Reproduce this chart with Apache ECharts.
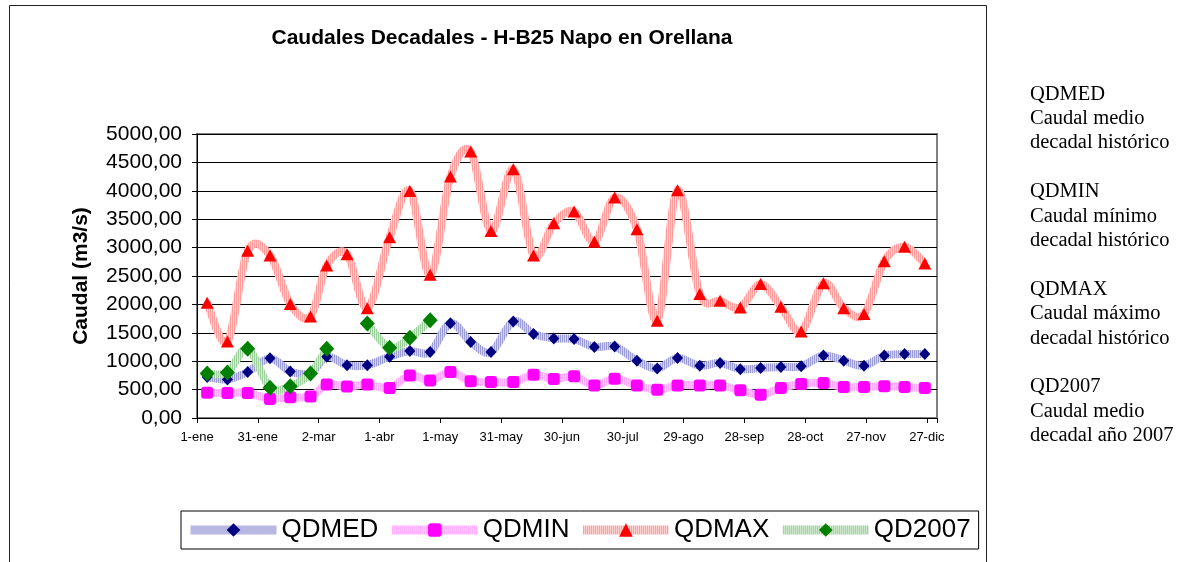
<!DOCTYPE html>
<html>
<head>
<meta charset="utf-8">
<title>Caudales Decadales - H-B25 Napo en Orellana</title>
<script src="https://cdn.jsdelivr.net/npm/echarts@6/dist/echarts.min.js"></script>
<style>
    html, body { margin: 0; padding: 0; background: #fff; }
    #main { width: 1195px; height: 562px; }
</style>
</head>
<body>
<div id="main"></div>
<script>
// dia del año (centro de cada decada)
var decadeDays = [5, 15, 25, 36, 46, 56, 64, 74, 84, 95, 105, 115,
    125, 135, 145, 156, 166, 176, 186, 196, 206, 217, 227, 237,
    248, 258, 268, 278, 288, 298, 309, 319, 329, 339, 349, 359];

var tickLabels = ['1-ene', '31-ene', '2-mar', '1-abr', '1-may', '31-may', '30-jun',
    '30-jul', '29-ago', '28-sep', '28-oct', '27-nov', '27-dic'];

var qdmed = [720, 680, 810, 1050, 820, 790, 1080, 930, 930, 1080, 1180, 1160,
    1670, 1340, 1160, 1700, 1480, 1400, 1390, 1250, 1260, 1010, 870, 1055,
    920, 970, 860, 880, 900, 910, 1100, 1010, 920, 1100, 1125, 1125];

var qdmin = [445, 440, 440, 336, 366, 377, 590, 553, 588, 530, 750, 662,
    809, 645, 633, 633, 762, 686, 733, 574, 692, 574, 498, 574,
    574, 574, 487, 410, 528, 598, 615, 545, 545, 557, 545, 528];

var qdmax = [2030, 1348, 2943, 2861, 2005, 1788, 2685, 2884, 1934, 3183, 3998, 2521,
    4250, 4690, 3294, 4379, 2861, 3429, 3634, 3101, 3881, 3324, 1712, 4010,
    2181, 2063, 1946, 2357, 1958, 1524, 2374, 1934, 1829, 2761, 3013, 2720];

// solo hay datos hasta abril
var qd2007 = [785, 800, 1219, 533, 560, 785, 1219, null, 1664, 1236, 1412, 1723];

var notes = ['QDMED', 'Caudal medio', 'decadal histórico', '',
    'QDMIN', 'Caudal mínimo', 'decadal histórico', '',
    'QDMAX', 'Caudal máximo', 'decadal histórico', '',
    'QD2007', 'Caudal medio', 'decadal año 2007'];

function pairs(vals) {
    return vals.map(function(v, i) {
        return [decadeDays[i], v];
    });
}

// rayado vertical tipo excel
function stripes(c1, c2) {
    var cv = document.createElement('canvas');
    cv.width = 2;
    cv.height = 2;
    var ctx = cv.getContext('2d');
    ctx.fillStyle = c2;
    ctx.fillRect(0, 0, 2, 2);
    ctx.fillStyle = c1;
    ctx.fillRect(0, 0, 1, 2);
    return { image: cv, repeat: 'repeat' };
}

// curva suavizada como excel (catmull-rom), cortada en los huecos
function smoothPath(vals, api) {
    var runs = [], run = [];
    vals.forEach(function(v, i) {
        if (v == null) {
            if (run.length) runs.push(run);
            run = [];
        } else {
            run.push(api.coord([decadeDays[i], v]));
        }
    });
    if (run.length) runs.push(run);

    var d = '';
    runs.forEach(function(p) {
        d += 'M' + p[0][0] + ' ' + p[0][1];
        for (var i = 0; i < p.length - 1; i++) {
            var p0 = p[i - 1] || p[i], p1 = p[i], p2 = p[i + 1], p3 = p[i + 2] || p[i + 1];
            var c1x = p1[0] + (p2[0] - p0[0]) / 6, c1y = p1[1] + (p2[1] - p0[1]) / 6;
            var c2x = p2[0] - (p3[0] - p1[0]) / 6, c2y = p2[1] - (p3[1] - p1[1]) / 6;
            d += 'C' + c1x + ' ' + c1y + ' ' + c2x + ' ' + c2y + ' ' + p2[0] + ' ' + p2[1];
        }
    });
    return d;
}

function lineSeries(vals, lineA, lineB) {
    var pat = stripes(lineA, lineB);
    return {
        type: 'custom',
        silent: true,
        data: pairs(vals),
        encode: { x: 0, y: 1 },
        renderItem: function(params, api) {
            if (params.dataIndex !== 0) return;
            return {
                type: 'path',
                shape: { pathData: smoothPath(vals, api) },
                style: { fill: null, stroke: pat, lineWidth: 8, lineJoin: 'round' }
            };
        }
    };
}

function markSeries(name, vals, lineA, lineB, mark, symbol, size) {
    return {
        name: name,
        type: 'line',
        data: pairs(vals),
        symbol: symbol,
        symbolSize: size,
        showAllSymbol: true,
        lineStyle: { width: 8, color: stripes(lineA, lineB), opacity: 0 },
        itemStyle: { color: mark, borderWidth: 0 },
        emphasis: { disabled: true }
    };
}

var app = echarts.init(document.getElementById('main'));

var option = {
    animation: false,
    backgroundColor: '#fff',
    title: {
        text: 'Caudales Decadales - H-B25 Napo en Orellana',
        left: 497,
        textAlign: 'center',
        top: 23,
        textStyle: { fontFamily: 'Arial, Liberation Sans', fontSize: 21, fontWeight: 'bold', color: '#000' }
    },
    legend: {
        left: 181,
        top: 511,
        padding: [6, 8, 6, 5],
        itemGap: 9,
        itemWidth: 86,
        itemHeight: 17,
        borderColor: '#000',
        borderWidth: 1,
        lineStyle: { width: 9, opacity: 1 },
        textStyle: { fontFamily: 'Arial, Liberation Sans', fontSize: 26, color: '#000' },
        data: ['QDMED', 'QDMIN', 'QDMAX', 'QD2007']
    },
    grid: {
        left: 197,
        top: 134,
        width: 740,
        height: 284,
        show: true,
        borderColor: '#808080',
        borderWidth: 2,
        backgroundColor: '#fff'
    },
    xAxis: {
        type: 'value',
        min: 0,
        max: 365,
        interval: 30,
        axisLine: { lineStyle: { color: '#000', width: 1 } },
        axisTick: { show: true, inside: false, length: 5, lineStyle: { color: '#000' } },
        axisLabel: {
            color: '#000',
            fontFamily: 'Arial, Liberation Sans',
            fontSize: 13,
            margin: 13,
            formatter: function(v) {
                return tickLabels[v / 30] || '';
            }
        },
        splitLine: { show: false }
    },
    yAxis: {
        type: 'value',
        min: 0,
        max: 5000,
        interval: 500,
        name: 'Caudal (m3/s)',
        nameLocation: 'middle',
        nameGap: 105,
        nameTextStyle: { fontFamily: 'Arial, Liberation Sans', fontSize: 21, fontWeight: 'bold', color: '#000' },
        axisLine: { show: true, lineStyle: { color: '#000', width: 1 } },
        axisTick: { show: true, inside: false, length: 5, lineStyle: { color: '#000' } },
        axisLabel: {
            color: '#000',
            fontFamily: 'Arial, Liberation Sans',
            fontSize: 21,
            margin: 15,
            formatter: function(v) {
                return v.toFixed(2).replace('.', ',');
            }
        },
        splitLine: { show: true, lineStyle: { color: '#000', width: 1 } }
    },
    graphic: [
        {
            type: 'rect',
            shape: { x: 9.5, y: 5.5, width: 977, height: 700 },
            style: { fill: 'none', stroke: '#222', lineWidth: 1 },
            silent: true
        },
        {
            type: 'text',
            left: 1030,
            top: 82,
            style: {
                text: notes.join('\n'),
                font: '20.5px "Liberation Serif", "Times New Roman", serif',
                lineHeight: 24.4,
                fill: '#000'
            },
            silent: true
        }
    ],
    series: [
        lineSeries(qdmed, '#9c9cd6', '#d4d4ee'),
        markSeries('QDMED', qdmed, '#9c9cd6', '#d4d4ee', '#000080', 'diamond', [11, 12]),
        lineSeries(qdmin, '#ffa8ff', '#ffdcff'),
        markSeries('QDMIN', qdmin, '#ffa8ff', '#ffdcff', '#ff00ff', 'roundRect', 12),
        lineSeries(qdmax, '#ff9c9c', '#ffd6d6'),
        markSeries('QDMAX', qdmax, '#ff9c9c', '#ffd6d6', '#ff0000', 'triangle', [13, 12]),
        lineSeries(qd2007, '#9ccf9c', '#d6ecd6'),
        markSeries('QD2007', qd2007, '#9ccf9c', '#d6ecd6', '#008000', 'diamond', [15, 16])
    ]
};

app.setOption(option);
</script>
</body>
</html>
